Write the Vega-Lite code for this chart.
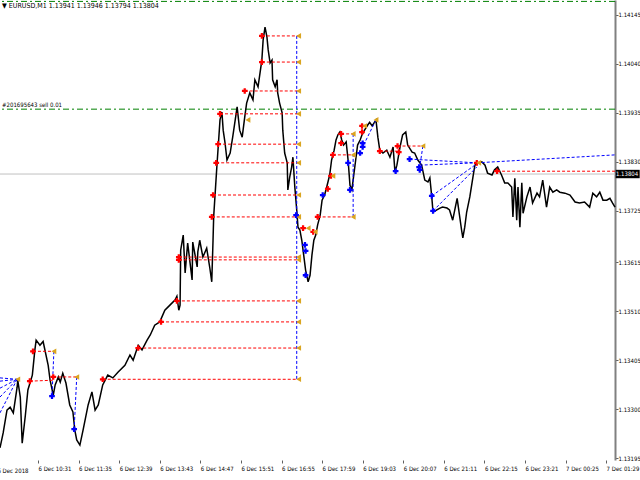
{
  "$schema": "https://vega.github.io/schema/vega-lite/v6.json",
  "width": 615,
  "height": 460,
  "autosize": "none",
  "padding": {"left": 0, "top": 0, "right": 25, "bottom": 20},
  "background": "#ffffff",
  "title": {"text": "▼ EURUSD,M1  1.13941 1.13946 1.13794 1.13804", "anchor": "start", "frame": "group", "offset": -9, "fontSize": 7, "font": "DejaVu Sans Condensed, sans-serif", "fontWeight": "normal", "dx": 2, "color": "#000000"},
  "config": {
    "view": {"stroke": null},
    "axis": {"labelFont": "DejaVu Sans Condensed, sans-serif", "labelFontSize": 6, "labelColor": "#000000", "grid": false}
  },
  "datasets": {
    "levels": [
      {"price": 1.14174, "kind": "tp", "label": ""},
      {"price": 1.13943, "kind": "open", "label": "#201695643 sell 0.01"},
      {"price": 1.13804, "kind": "bid", "label": "1.13804"}
    ],
    "firstlabel": [{"bar": -64, "price": 1.13167, "label": "6 Dec 2018"}],
    "price": [
      {"bar":-60,"price":1.13217},{"bar":-55,"price":1.13249},{"bar":-49,"price":1.13298},{"bar":-44,"price":1.13304},{"bar":-39,"price":1.13292},{"bar":-33,"price":1.13347},{"bar":-32,"price":1.13362},{"bar":-28,"price":1.13326},{"bar":-25,"price":1.13227},{"bar":-20,"price":1.13287},{"bar":-16,"price":1.13341},{"bar":-9,"price":1.13373},{"bar":-5,"price":1.13427},{"bar":-3,"price":1.13448},{"bar":3,"price":1.13437},{"bar":8,"price":1.13445},{"bar":16,"price":1.13394},{"bar":19,"price":1.13362},{"bar":24,"price":1.1333},{"bar":27,"price":1.13352},{"bar":32,"price":1.13369},{"bar":35,"price":1.13358},{"bar":39,"price":1.13377},{"bar":44,"price":1.13356},{"bar":50,"price":1.13309},{"bar":55,"price":1.13294},{"bar":58,"price":1.13255},{"bar":61,"price":1.13234},{"bar":66,"price":1.13223},{"bar":71,"price":1.13255},{"bar":79,"price":1.13309},{"bar":85,"price":1.13337},{"bar":90,"price":1.13298},{"bar":95,"price":1.13309},{"bar":102,"price":1.13352},{"bar":110,"price":1.13373},{"bar":118,"price":1.13367},{"bar":126,"price":1.13379},{"bar":137,"price":1.13394},{"bar":145,"price":1.13416},{"bar":150,"price":1.13405},{"bar":158,"price":1.13437},{"bar":164,"price":1.13427},{"bar":172,"price":1.13448},{"bar":177,"price":1.13459},{"bar":184,"price":1.1348},{"bar":192,"price":1.13487},{"bar":200,"price":1.13512},{"bar":208,"price":1.13523},{"bar":216,"price":1.13534},{"bar":219,"price":1.13542},{"bar":222,"price":1.13512},{"bar":224,"price":1.13523},{"bar":225,"price":1.13641},{"bar":229,"price":1.13673},{"bar":232,"price":1.13592},{"bar":236,"price":1.13656},{"bar":243,"price":1.13577},{"bar":244,"price":1.13658},{"bar":251,"price":1.13605},{"bar":252,"price":1.13637},{"bar":255,"price":1.13662},{"bar":260,"price":1.13626},{"bar":266,"price":1.13645},{"bar":271,"price":1.13602},{"bar":274,"price":1.13573},{"bar":276,"price":1.13662},{"bar":277,"price":1.13712},{"bar":279,"price":1.13755},{"bar":282,"price":1.13819},{"bar":287,"price":1.1392},{"bar":290,"price":1.13937},{"bar":292,"price":1.13898},{"bar":295,"price":1.1387},{"bar":298,"price":1.13834},{"bar":303,"price":1.13849},{"bar":307,"price":1.13883},{"bar":311,"price":1.1392},{"bar":314,"price":1.13948},{"bar":318,"price":1.13898},{"bar":322,"price":1.13883},{"bar":326,"price":1.13926},{"bar":329,"price":1.13956},{"bar":334,"price":1.13978},{"bar":339,"price":1.13963},{"bar":342,"price":1.14006},{"bar":347,"price":1.13991},{"bar":353,"price":1.14048},{"bar":355,"price":1.14091},{"bar":358,"price":1.14119},{"bar":361,"price":1.14098},{"bar":363,"price":1.1407},{"bar":366,"price":1.14042},{"bar":369,"price":1.14048},{"bar":370,"price":1.14006},{"bar":374,"price":1.13991},{"bar":377,"price":1.14006},{"bar":378,"price":1.13978},{"bar":381,"price":1.13956},{"bar":385,"price":1.13935},{"bar":386,"price":1.13898},{"bar":389,"price":1.13849},{"bar":393,"price":1.13828},{"bar":394,"price":1.1377},{"bar":397,"price":1.13798},{"bar":400,"price":1.13819},{"bar":402,"price":1.1384},{"bar":405,"price":1.13776},{"bar":408,"price":1.13727},{"bar":410,"price":1.1369},{"bar":413,"price":1.13684},{"bar":416,"price":1.13662},{"bar":419,"price":1.1363},{"bar":422,"price":1.13598},{"bar":426,"price":1.13573},{"bar":429,"price":1.13587},{"bar":432,"price":1.1363},{"bar":435,"price":1.13662},{"bar":438,"price":1.13673},{"bar":441,"price":1.13695},{"bar":445,"price":1.13716},{"bar":448,"price":1.13748},{"bar":452,"price":1.13759},{"bar":456,"price":1.1378},{"bar":460,"price":1.13802},{"bar":463,"price":1.13834},{"bar":467,"price":1.13855},{"bar":470,"price":1.13877},{"bar":473,"price":1.13888},{"bar":476,"price":1.13894},{"bar":479,"price":1.13877},{"bar":482,"price":1.13866},{"bar":486,"price":1.13873},{"bar":489,"price":1.13834},{"bar":492,"price":1.1378},{"bar":495,"price":1.1377},{"bar":498,"price":1.13802},{"bar":501,"price":1.13834},{"bar":504,"price":1.13866},{"bar":508,"price":1.13877},{"bar":511,"price":1.13888},{"bar":515,"price":1.13898},{"bar":520,"price":1.13909},{"bar":523,"price":1.13915},{"bar":527,"price":1.13907},{"bar":533,"price":1.1392},{"bar":536,"price":1.13883},{"bar":539,"price":1.13855},{"bar":544,"price":1.13849},{"bar":550,"price":1.13855},{"bar":555,"price":1.1384},{"bar":560,"price":1.13862},{"bar":563,"price":1.13808},{"bar":566,"price":1.13823},{"bar":571,"price":1.13862},{"bar":575,"price":1.13888},{"bar":580,"price":1.13894},{"bar":583,"price":1.13866},{"bar":590,"price":1.13851},{"bar":594,"price":1.13849},{"bar":599,"price":1.13834},{"bar":605,"price":1.13823},{"bar":610,"price":1.13791},{"bar":615,"price":1.13787},{"bar":618,"price":1.13796},{"bar":621,"price":1.13755},{"bar":623,"price":1.13722},{"bar":629,"price":1.13727},{"bar":634,"price":1.13731},{"bar":638,"price":1.13733},{"bar":645,"price":1.13731},{"bar":649,"price":1.13727},{"bar":654,"price":1.13705},{"bar":661,"price":1.13752},{"bar":662,"price":1.13742},{"bar":668,"price":1.13684},{"bar":670,"price":1.13667},{"bar":673,"price":1.1369},{"bar":676,"price":1.13722},{"bar":681,"price":1.13755},{"bar":686,"price":1.13798},{"bar":689,"price":1.13823},{"bar":694,"price":1.13828},{"bar":700,"price":1.1383},{"bar":705,"price":1.13823},{"bar":709,"price":1.13806},{"bar":716,"price":1.13802},{"bar":720,"price":1.13813},{"bar":725,"price":1.13819},{"bar":731,"price":1.13802},{"bar":736,"price":1.13785},{"bar":741,"price":1.13785},{"bar":747,"price":1.13776},{"bar":749,"price":1.13712},{"bar":752,"price":1.13795},{"bar":755,"price":1.13705},{"bar":757,"price":1.13776},{"bar":760,"price":1.1369},{"bar":763,"price":1.13785},{"bar":765,"price":1.1372},{"bar":771,"price":1.13755},{"bar":776,"price":1.13776},{"bar":780,"price":1.13742},{"bar":787,"price":1.13763},{"bar":791,"price":1.13755},{"bar":796,"price":1.13791},{"bar":802,"price":1.13733},{"bar":807,"price":1.13776},{"bar":812,"price":1.13765},{"bar":818,"price":1.1377},{"bar":823,"price":1.13765},{"bar":831,"price":1.13763},{"bar":839,"price":1.13759},{"bar":847,"price":1.13744},{"bar":854,"price":1.13742},{"bar":862,"price":1.13744},{"bar":870,"price":1.13733},{"bar":875,"price":1.13763},{"bar":881,"price":1.13755},{"bar":886,"price":1.13765},{"bar":891,"price":1.13748},{"bar":897,"price":1.13748},{"bar":902,"price":1.13752},{"bar":906,"price":1.13742},{"bar":910,"price":1.13733}
    ],
    "segs": [
      {"bar":353,"price":1.141,"bar2":411,"price2":1.141,"c":"red"},
      {"bar":353,"price":1.14044,"bar2":411,"price2":1.14044,"c":"red"},
      {"bar":326,"price":1.13982,"bar2":411,"price2":1.13982,"c":"red"},
      {"bar":287,"price":1.13933,"bar2":411,"price2":1.13933,"c":"red"},
      {"bar":284,"price":1.13868,"bar2":411,"price2":1.13868,"c":"red"},
      {"bar":281,"price":1.13828,"bar2":411,"price2":1.13828,"c":"red"},
      {"bar":276,"price":1.13759,"bar2":411,"price2":1.13759,"c":"red"},
      {"bar":274,"price":1.13712,"bar2":411,"price2":1.13712,"c":"red"},
      {"bar":222,"price":1.13626,"bar2":411,"price2":1.13626,"c":"red"},
      {"bar":222,"price":1.1362,"bar2":411,"price2":1.1362,"c":"red"},
      {"bar":219,"price":1.13532,"bar2":411,"price2":1.13532,"c":"red"},
      {"bar":194,"price":1.13487,"bar2":411,"price2":1.13487,"c":"red"},
      {"bar":158,"price":1.13431,"bar2":411,"price2":1.13431,"c":"red"},
      {"bar":102,"price":1.13364,"bar2":411,"price2":1.13364,"c":"red"},
      {"bar":-8,"price":1.13424,"bar2":25,"price2":1.13424,"c":"red"},
      {"bar":-13,"price":1.1336,"bar2":24,"price2":1.13362,"c":"red"},
      {"bar":24,"price":1.13369,"bar2":61,"price2":1.13369,"c":"red"},
      {"bar":441,"price":1.13712,"bar2":497,"price2":1.13712,"c":"red"},
      {"bar":465,"price":1.13845,"bar2":497,"price2":1.13845,"c":"red"},
      {"bar":478,"price":1.1389,"bar2":497,"price2":1.1389,"c":"red"},
      {"bar":418,"price":1.13688,"bar2":426,"price2":1.13688,"c":"red"},
      {"bar":539,"price":1.13853,"bar2":567,"price2":1.13853,"c":"red"},
      {"bar":567,"price":1.13864,"bar2":605,"price2":1.13864,"c":"red"},
      {"bar":724,"price":1.1381,"bar2":910,"price2":1.1381,"c":"red"},
      {"bar":408,"price":1.141,"bar2":408,"price2":1.13364,"c":"blue"},
      {"bar":497,"price":1.1389,"bar2":497,"price2":1.13712,"c":"blue"},
      {"bar":25,"price":1.13424,"bar2":22,"price2":1.13328,"c":"blue"},
      {"bar":61,"price":1.13369,"bar2":57,"price2":1.13257,"c":"blue"},
      {"bar":-60,"price":1.13367,"bar2":-33,"price2":1.13364,"c":"blue"},
      {"bar":-60,"price":1.1336,"bar2":-33,"price2":1.13364,"c":"blue"},
      {"bar":-60,"price":1.13345,"bar2":-33,"price2":1.13364,"c":"blue"},
      {"bar":-60,"price":1.13326,"bar2":-33,"price2":1.13364,"c":"blue"},
      {"bar":-60,"price":1.13292,"bar2":-33,"price2":1.13364,"c":"blue"},
      {"bar":533,"price":1.1392,"bar2":512,"price2":1.13862,"c":"blue"},
      {"bar":607,"price":1.13864,"bar2":602,"price2":1.13819,"c":"blue"},
      {"bar":586,"price":1.13836,"bar2":692,"price2":1.13828,"c":"blue"},
      {"bar":602,"price":1.13823,"bar2":692,"price2":1.13828,"c":"blue"},
      {"bar":621,"price":1.13757,"bar2":689,"price2":1.13823,"c":"blue"},
      {"bar":623,"price":1.13725,"bar2":692,"price2":1.13819,"c":"blue"},
      {"bar":692,"price":1.13828,"bar2":910,"price2":1.13845,"c":"blue"}
    ],
    "marks": [
      {"bar":353,"price":1.141,"kind":"red"},{"bar":353,"price":1.14044,"kind":"red"},{"bar":326,"price":1.13982,"kind":"red"},{"bar":287,"price":1.13933,"kind":"red"},{"bar":284,"price":1.13868,"kind":"red"},{"bar":281,"price":1.13828,"kind":"red"},{"bar":276,"price":1.13759,"kind":"red"},{"bar":274,"price":1.13712,"kind":"red"},{"bar":222,"price":1.13626,"kind":"red"},{"bar":222,"price":1.1362,"kind":"red"},{"bar":219,"price":1.13532,"kind":"red"},{"bar":194,"price":1.13487,"kind":"red"},{"bar":158,"price":1.13431,"kind":"red"},{"bar":102,"price":1.13364,"kind":"red"},{"bar":-8,"price":1.13424,"kind":"red"},{"bar":-13,"price":1.1336,"kind":"red"},{"bar":24,"price":1.13369,"kind":"red"},{"bar":441,"price":1.13712,"kind":"red"},{"bar":465,"price":1.13845,"kind":"red"},{"bar":478,"price":1.1389,"kind":"red"},{"bar":478,"price":1.1387,"kind":"red"},{"bar":418,"price":1.13688,"kind":"red"},{"bar":434,"price":1.1368,"kind":"red"},{"bar":457,"price":1.13772,"kind":"red"},{"bar":462,"price":1.138,"kind":"red"},{"bar":511,"price":1.13907,"kind":"red"},{"bar":511,"price":1.13894,"kind":"red"},{"bar":539,"price":1.13853,"kind":"red"},{"bar":567,"price":1.13864,"kind":"red"},{"bar":569,"price":1.13851,"kind":"red"},{"bar":692,"price":1.13828,"kind":"red"},{"bar":724,"price":1.1381,"kind":"red"},
      {"bar":411,"price":1.141,"kind":"orange"},{"bar":411,"price":1.14044,"kind":"orange"},{"bar":411,"price":1.13982,"kind":"orange"},{"bar":411,"price":1.13933,"kind":"orange"},{"bar":411,"price":1.13868,"kind":"orange"},{"bar":411,"price":1.13828,"kind":"orange"},{"bar":411,"price":1.13759,"kind":"orange"},{"bar":411,"price":1.13712,"kind":"orange"},{"bar":411,"price":1.13626,"kind":"orange"},{"bar":411,"price":1.1362,"kind":"orange"},{"bar":411,"price":1.13532,"kind":"orange"},{"bar":411,"price":1.13487,"kind":"orange"},{"bar":411,"price":1.13431,"kind":"orange"},{"bar":411,"price":1.13364,"kind":"orange"},{"bar":25,"price":1.13424,"kind":"orange"},{"bar":-32,"price":1.13364,"kind":"orange"},{"bar":61,"price":1.13369,"kind":"orange"},{"bar":497,"price":1.13712,"kind":"orange"},{"bar":497,"price":1.13845,"kind":"orange"},{"bar":497,"price":1.1389,"kind":"orange"},{"bar":465,"price":1.138,"kind":"orange"},{"bar":426,"price":1.13688,"kind":"orange"},{"bar":437,"price":1.1368,"kind":"orange"},{"bar":515,"price":1.13907,"kind":"orange"},{"bar":533,"price":1.1392,"kind":"orange"},{"bar":607,"price":1.13864,"kind":"orange"},{"bar":695,"price":1.13828,"kind":"orange"},{"bar":331,"price":1.1392,"kind":"orange"},
      {"bar":407,"price":1.13716,"kind":"blue"},{"bar":449,"price":1.13759,"kind":"blue"},{"bar":489,"price":1.13828,"kind":"blue"},{"bar":492,"price":1.1377,"kind":"blue"},{"bar":508,"price":1.13849,"kind":"blue"},{"bar":512,"price":1.1387,"kind":"blue"},{"bar":512,"price":1.13862,"kind":"blue"},{"bar":586,"price":1.13836,"kind":"blue"},{"bar":564,"price":1.1381,"kind":"blue"},{"bar":601,"price":1.13819,"kind":"blue"},{"bar":602,"price":1.13813,"kind":"blue"},{"bar":621,"price":1.13757,"kind":"blue"},{"bar":623,"price":1.13725,"kind":"blue"},{"bar":421,"price":1.13652,"kind":"blue"},{"bar":422,"price":1.13639,"kind":"blue"},{"bar":422,"price":1.13587,"kind":"blue"},{"bar":22,"price":1.13328,"kind":"blue"},{"bar":57,"price":1.13257,"kind":"blue"}
    ]
  },
  "layer": [
    {
      "data": {"name": "levels"},
      "transform": [{"filter": "datum.kind != 'bid'"}],
      "mark": {"type": "rule", "color": "#008000", "strokeDash": [6, 3, 2, 3], "strokeWidth": 1},
      "encoding": {
        "y": {"field": "price", "type": "quantitative", "title": null,
          "scale": {"domain": [1.13191, 1.14177], "nice": false, "zero": false},
          "axis": {"orient": "right", "values": [1.14145, 1.14095, 1.1404, 1.1399, 1.13935, 1.1388, 1.1383, 1.13775, 1.13725, 1.1367, 1.13615, 1.13565, 1.1351, 1.1346, 1.13405, 1.1335, 1.133, 1.13245, 1.13195], "format": ".5f", "domainColor": "#808080", "domainWidth": 2, "tickColor": "#606060", "tickSize": 3, "labelPadding": 0, "labelBaseline": "middle", "labelOverlap": false, "labelFlush": false}}
      }
    },
    {
      "data": {"name": "levels"},
      "transform": [{"filter": "datum.kind == 'bid'"}],
      "mark": {"type": "rule", "color": "#C0C0C0", "strokeWidth": 1},
      "encoding": {"y": {"field": "price", "type": "quantitative", "title": null, "scale": {"domain": [1.13191, 1.14177], "nice": false, "zero": false}}}
    },
    {
      "data": {"name": "price"},
      "mark": {"type": "line", "color": "#000000", "strokeWidth": 1.5},
      "encoding": {
        "x": {"field": "bar", "type": "quantitative", "title": null,
          "scale": {"domain": [-60, 910], "nice": false, "zero": false},
          "axis": {"values": [0, 64, 128, 192, 256, 320, 384, 448, 512, 576, 640, 704, 768, 832, 896], "labelExpr": "['6 Dec 10:31','6 Dec 11:35','6 Dec 12:39','6 Dec 13:43','6 Dec 14:47','6 Dec 15:51','6 Dec 16:55','6 Dec 17:59','6 Dec 19:03','6 Dec 20:07','6 Dec 21:11','6 Dec 22:15','6 Dec 23:21','7 Dec 00:25','7 Dec 01:29'][datum.value / 64]", "domain": false, "tickColor": "#606060", "tickSize": 3, "labelPadding": 2, "labelAlign": "left", "labelOffset": 0, "labelOverlap": false, "labelFlush": false}},
        "y": {"field": "price", "type": "quantitative", "title": null, "scale": {"domain": [1.13191, 1.14177], "nice": false, "zero": false}}
      }
    },
    {
      "data": {"name": "segs"},
      "mark": {"type": "rule", "strokeDash": [3, 2], "strokeWidth": 1},
      "encoding": {
        "x": {"field": "bar", "type": "quantitative", "title": null, "scale": {"domain": [-60, 910], "nice": false, "zero": false}},
        "x2": {"field": "bar2"},
        "y": {"field": "price", "type": "quantitative", "title": null, "scale": {"domain": [1.13191, 1.14177], "nice": false, "zero": false}},
        "y2": {"field": "price2"},
        "color": {"field": "c", "type": "nominal", "legend": null, "scale": {"domain": ["red", "blue", "orange"], "range": ["#FF0000", "#0000FF", "#DAA520"]}}
      }
    },
    {
      "data": {"name": "marks"},
      "mark": {"type": "point", "filled": true, "size": 32, "opacity": 1},
      "encoding": {
        "x": {"field": "bar", "type": "quantitative", "title": null, "scale": {"domain": [-60, 910], "nice": false, "zero": false}},
        "y": {"field": "price", "type": "quantitative", "title": null, "scale": {"domain": [1.13191, 1.14177], "nice": false, "zero": false}},
        "color": {"field": "kind", "type": "nominal", "legend": null, "scale": {"domain": ["red", "blue", "orange"], "range": ["#FF0000", "#0000FF", "#DAA520"]}},
        "shape": {"field": "kind", "type": "nominal", "legend": null, "scale": {"domain": ["red", "blue", "orange"], "range": ["cross", "cross", "triangle-left"]}}
      }
    },
    {
      "data": {"name": "levels"},
      "transform": [{"filter": "datum.kind == 'open'"}],
      "mark": {"type": "text", "align": "left", "baseline": "bottom", "dx": 2, "dy": -1, "fontSize": 6, "font": "DejaVu Sans Condensed, sans-serif", "color": "#000000"},
      "encoding": {
        "x": {"datum": -60, "type": "quantitative", "scale": {"domain": [-60, 910], "nice": false, "zero": false}},
        "y": {"field": "price", "type": "quantitative", "title": null, "scale": {"domain": [1.13191, 1.14177], "nice": false, "zero": false}},
        "text": {"field": "label"}
      }
    },
    {
      "data": {"name": "firstlabel"},
      "mark": {"type": "text", "align": "left", "baseline": "middle", "fontSize": 6, "font": "DejaVu Sans Condensed, sans-serif", "color": "#000000"},
      "encoding": {
        "x": {"field": "bar", "type": "quantitative", "scale": {"domain": [-60, 910], "nice": false, "zero": false}},
        "y": {"field": "price", "type": "quantitative", "title": null, "scale": {"domain": [1.13191, 1.14177], "nice": false, "zero": false}},
        "text": {"field": "label"}
      }
    },
    {
      "data": {"name": "levels"},
      "transform": [{"filter": "datum.kind == 'bid'"}],
      "mark": {"type": "point", "filled": true, "shape": "M-1,-0.35L1,-0.35L1,0.35L-1,0.35Z", "size": 576, "color": "#000000", "opacity": 1},
      "encoding": {
        "x": {"datum": 930, "type": "quantitative", "scale": {"domain": [-60, 910], "nice": false, "zero": false}},
        "y": {"field": "price", "type": "quantitative", "title": null, "scale": {"domain": [1.13191, 1.14177], "nice": false, "zero": false}}
      }
    },
    {
      "data": {"name": "levels"},
      "transform": [{"filter": "datum.kind == 'bid'"}],
      "mark": {"type": "text", "align": "center", "baseline": "middle", "fontSize": 6, "font": "DejaVu Sans Condensed, sans-serif", "color": "#FFFFFF"},
      "encoding": {
        "x": {"datum": 929, "type": "quantitative", "scale": {"domain": [-60, 910], "nice": false, "zero": false}},
        "y": {"field": "price", "type": "quantitative", "title": null, "scale": {"domain": [1.13191, 1.14177], "nice": false, "zero": false}},
        "text": {"field": "label"}
      }
    }
  ]
}
